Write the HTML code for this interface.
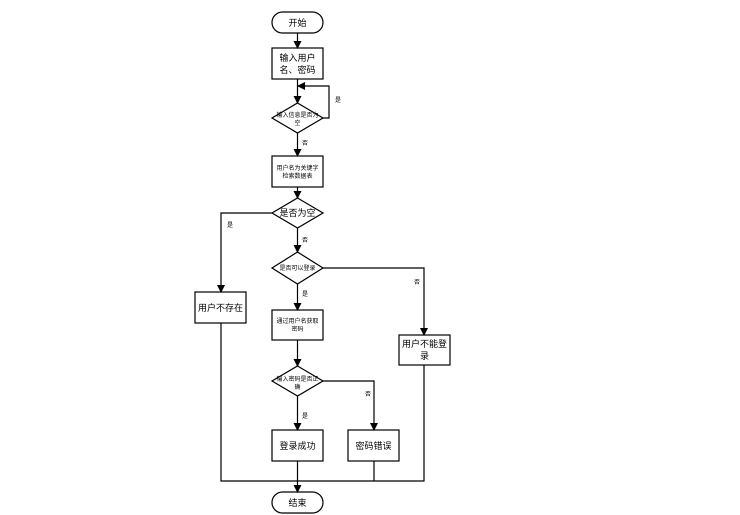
<!DOCTYPE html>
<html><head><meta charset="utf-8"><style>
body{margin:0;background:#fff}
svg{display:block}
text{font-family:"Liberation Sans","Noto Sans CJK SC",sans-serif;fill:#000}
</style></head><body>
<svg width="740" height="515" viewBox="0 0 740 515" xmlns="http://www.w3.org/2000/svg">
<defs><marker id="a" markerWidth="8" markerHeight="8" refX="7" refY="4" orient="auto" markerUnits="userSpaceOnUse"><path d="M0,0 L8,4 L0,8 z" fill="#000"/></marker></defs>
<g stroke="#000" stroke-width="1.2" fill="#fff">
<rect x="272" y="12" width="51" height="21" rx="10.5"/>
<rect x="272" y="48" width="51" height="31"/>
<polygon points="297.5,103 323,118 297.5,133 272,118"/>
<rect x="272" y="156" width="51" height="31"/>
<polygon points="297.5,198 323,213 297.5,228 272,213"/>
<polygon points="297.5,252 323,268 297.5,284 272,268"/>
<rect x="272" y="310" width="51" height="30"/>
<rect x="195" y="292" width="51" height="31"/>
<rect x="399" y="335" width="51" height="30"/>
<polygon points="297.5,366 323,381 297.5,396 272,381"/>
<rect x="272" y="430" width="51" height="31"/>
<rect x="348" y="430" width="51" height="31"/>
<rect x="272" y="492" width="51" height="21" rx="10.5"/>
</g>
<g stroke="#000" stroke-width="1.2" fill="none">
<line x1="297.5" y1="33" x2="297.5" y2="48" marker-end="url(#a)"/>
<line x1="297.5" y1="79" x2="297.5" y2="103" marker-end="url(#a)"/>
<polyline points="323,118 329,118 329,86 298,86" marker-end="url(#a)"/>
<line x1="297.5" y1="133" x2="297.5" y2="156" marker-end="url(#a)"/>
<line x1="297.5" y1="187" x2="297.5" y2="198" marker-end="url(#a)"/>
<polyline points="272,213 221,213 221,292" marker-end="url(#a)"/>
<line x1="297.5" y1="228" x2="297.5" y2="252" marker-end="url(#a)"/>
<polyline points="323,268 424,268 424,335" marker-end="url(#a)"/>
<line x1="297.5" y1="284" x2="297.5" y2="310" marker-end="url(#a)"/>
<line x1="297.5" y1="340" x2="297.5" y2="366" marker-end="url(#a)"/>
<polyline points="323,381 374,381 374,430" marker-end="url(#a)"/>
<line x1="297.5" y1="396" x2="297.5" y2="430" marker-end="url(#a)"/>
<polyline points="221,323 221,481 424,481 424,365"/>
<line x1="374" y1="461" x2="374" y2="481"/>
<line x1="297.5" y1="461" x2="297.5" y2="492" marker-end="url(#a)"/>
</g>
<g font-size="9" text-anchor="middle">
<text x="297.5" y="26">开始</text>
<text x="297.5" y="61">输入用户</text>
<text x="297.5" y="73">名、密码</text>
<text x="297.5" y="117" font-size="6">输入信息是否为</text>
<text x="297.5" y="125" font-size="6">空</text>
<text x="297.5" y="170" font-size="6">用户名为关键字</text>
<text x="297.5" y="178" font-size="6">检索数据表</text>
<text x="297.5" y="216">是否为空</text>
<text x="297.5" y="270" font-size="6">是否可以登录</text>
<text x="297.5" y="323" font-size="6">通过用户名获取</text>
<text x="297.5" y="331" font-size="6">密码</text>
<text x="220.5" y="311">用户不存在</text>
<text x="424.5" y="347">用户不能登</text>
<text x="424.5" y="359">录</text>
<text x="297.5" y="381" font-size="6">输入密码是否正</text>
<text x="297.5" y="389" font-size="6">确</text>
<text x="297.5" y="449">登录成功</text>
<text x="373.5" y="449">密码错误</text>
<text x="297.5" y="506">结束</text>
</g>
<g font-size="6">
<text x="335" y="102">是</text>
<text x="302" y="145">否</text>
<text x="227" y="227">是</text>
<text x="302" y="242">否</text>
<text x="414" y="284">否</text>
<text x="302" y="296">是</text>
<text x="365" y="396">否</text>
<text x="302" y="418">是</text>
</g>
</svg>
</body></html>
